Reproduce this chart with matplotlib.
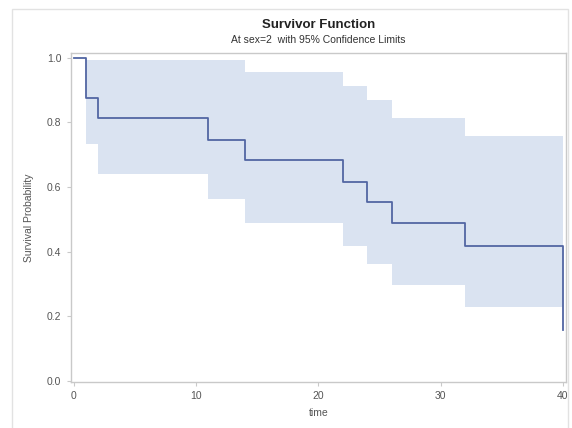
import matplotlib.pyplot as plt
from matplotlib.patches import Rectangle

# Kaplan-Meier estimate
time = [0, 1, 2, 11, 14, 22, 24, 26, 32, 40]
surv = [1.0, 0.875, 0.8125, 0.746, 0.684, 0.617, 0.554, 0.49, 0.418, 0.158]

# 95% confidence band
ci_time = [1, 2, 11, 14, 22, 24, 26, 32, 40]
ci_upper = [0.995, 0.995, 0.995, 0.956, 0.913, 0.87, 0.814, 0.758, 0.758]
ci_lower = [0.734, 0.641, 0.563, 0.489, 0.419, 0.362, 0.298, 0.23, 0.23]

x_ticks = [0, 10, 20, 30, 40]
y_ticks = [0.0, 0.2, 0.4, 0.6, 0.8, 1.0]

plt.rcParams['font.family'] = ['Liberation Sans', 'DejaVu Sans']
frame_col = '#c9c9c9'
text_col = '#555555'

fig = plt.figure(figsize=(5.72, 4.28), dpi=100)
ax = fig.add_axes([0.124, 0.108, 0.8655, 0.768])

# outer light border like the SAS graph frame
fig.patches.append(Rectangle((12 / 572, -0.01), 556 / 572, 1 - 9.5 / 428 + 0.01,
                             transform=fig.transFigure, fill=False,
                             edgecolor='#e2e2e2', linewidth=1.0))

ax.fill_between(ci_time, ci_lower, ci_upper, step='post',
                color='#dae3f1', linewidth=0)
ax.step(time, surv, where='post', color='#5266a3', linewidth=1.3)

ax.set_xlim(-0.25, 40.26)
ax.set_ylim(-0.003, 1.015)
ax.set_xticks(x_ticks)
ax.set_yticks(y_ticks)
ax.set_yticklabels([f'{v:.1f}' for v in y_ticks])

for s in ax.spines.values():
    s.set_color(frame_col)
    s.set_linewidth(1.0)
ax.tick_params(colors=frame_col, labelcolor=text_col, labelsize=7.5,
               length=3, width=0.8, pad=4)

ax.set_xlabel('time', fontsize=7.5, color=text_col, labelpad=5)
ax.set_ylabel('Survival Probability', fontsize=7.5, color=text_col, labelpad=9)

fig.text(0.557, 1 - 25 / 428, 'Survivor Function', ha='center', va='center',
         fontsize=9.5, fontweight='bold', color='#222222')
fig.text(0.557, 1 - 40 / 428, 'At sex=2  with 95% Confidence Limits',
         ha='center', va='center', fontsize=7.5, color='#333333')

fig.savefig('out.png', dpi=100)
